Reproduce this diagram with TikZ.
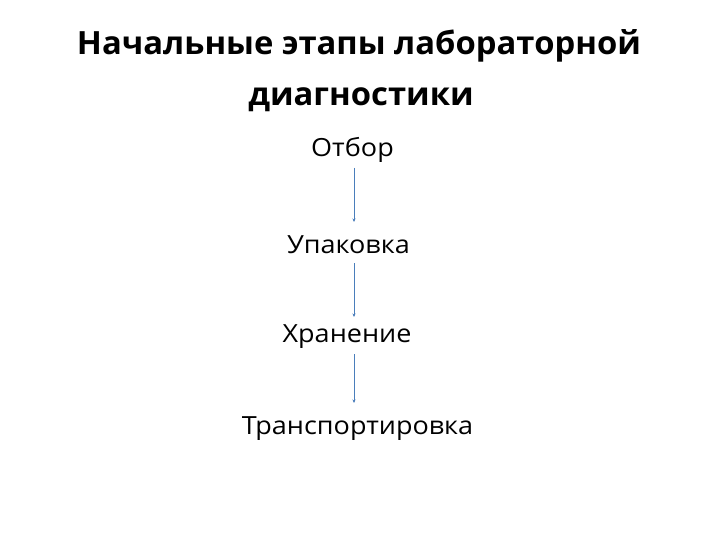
\documentclass[tikz,border=0pt]{standalone}
\usepackage{fontspec}
\setmainfont{Open Sans}
\usetikzlibrary{arrows.meta}
\definecolor{arrblue}{HTML}{4A7EBB}
\tikzset{
  titletext/.style={anchor=base, inner sep=0pt, font=\fontsize{32}{38}\selectfont\bfseries\addfontfeatures{FakeStretch=1.025}},
  steptext/.style={anchor=base, inner sep=0pt, font=\fontsize{25}{30}\selectfont\addfontfeatures{FakeStretch=1.08}},
  arr/.style={draw=arrblue, line width=0.6pt, -{Stealth[length=3.5pt,width=3pt]}}
}
\begin{document}
\begin{tikzpicture}[x=1pt,y=-1pt]
\useasboundingbox (0,0) rectangle (720,540);
\fill[white] (0,0) rectangle (720,540);
\node[titletext] (t1) at (359,55) {Начальные этапы лабораторной};
\node[titletext] (t2) at (361,106) {диагностики};
\node[steptext] (s1) at (352.5,157) {Отбор};
\node[steptext] (s2) at (348.5,253) {Упаковка};
\node[steptext] (s3) at (347,342) {Хранение};
\node[steptext] (s4) at (357.5,434) {Транспортировка};
\coordinate (a1) at (354,168);
\coordinate (b1) at (354,222);
\coordinate (a2) at (354,263);
\coordinate (b2) at (354,317);
\coordinate (a3) at (354,354);
\coordinate (b3) at (354,403);
\draw[arr] (a1) -- (b1);
\draw[arr] (a2) -- (b2);
\draw[arr] (a3) -- (b3);
\end{tikzpicture}
\end{document}
